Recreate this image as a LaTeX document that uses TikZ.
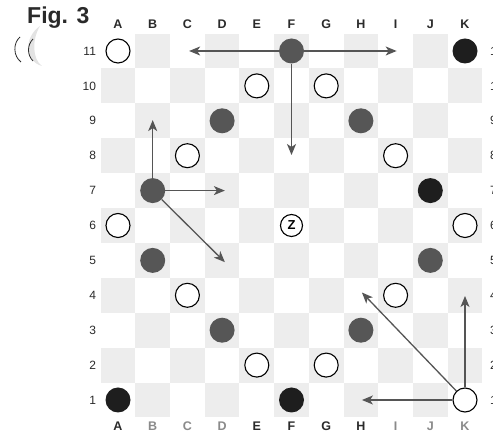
\documentclass[tikz,border=0pt]{standalone}
\usepackage{fontspec}
\setmainfont{Liberation Sans}
\usetikzlibrary{arrows.meta, positioning}
\definecolor{brdGray}{HTML}{EDEDED}
\definecolor{pcDark}{HTML}{565656}
\definecolor{pcBlack}{HTML}{1E1E1E}
\definecolor{arGray}{HTML}{555555}
\definecolor{lblGray}{HTML}{2A2A2A}
\definecolor{lblFaint}{HTML}{8A8A8A}

\begin{document}
\begin{tikzpicture}[x=1pt, y=1pt,
    wpiece/.style={circle, draw=black, line width=1.1pt, fill=white,
      minimum size=24pt, inner sep=0pt},
    dpiece/.style={circle, fill=pcDark, minimum size=25pt, inner sep=0pt},
    bpiece/.style={circle, fill=pcBlack, minimum size=25pt, inner sep=0pt},
    move/.style={draw=arGray, line width=1.3pt,
      -{Stealth[length=11pt, width=9pt, inset=3pt]}},
    collbl/.style={font=\bfseries\fontsize{12.5}{12.5}\selectfont, text=lblGray, inner sep=0pt},
    rowlbl/.style={font=\fontsize{12}{12}\selectfont, text=lblGray, inner sep=0pt}]
  \useasboundingbox (0,0) rectangle (493,433);
  \clip (0,0) rectangle (493,433);
  \node[font=\bfseries\fontsize{23}{23}\selectfont, text=lblGray,
    anchor=base west, inner sep=0pt] (title) at (27,409) {Fig. 3};
  % stray marks under the title
  \draw[lblGray, line width=0.8pt] (20,396) .. controls (13,390) and (13,377) .. (21,371);
  \fill[gray!22] (40,407) .. controls (24,396) and (24,372) .. (42,367)
    .. controls (32,374) and (32,394) .. (40,407);
  \draw[lblGray, line width=0.8pt] (33,394) .. controls (27,388) and (27,378) .. (33,372);

  \begin{scope}[shift={(83.3pt,-1.9pt)}, x=34.7pt, y=34.9pt]
    % board
    \fill[white] (0.5,0.5) rectangle (11.5,11.5);
    \foreach \c in {1,...,11}{
      \foreach \r in {1,...,11}{
        \pgfmathtruncatemacro\s{\c+\r}
        \ifodd\s \fill[brdGray] (\c-0.5,\r-0.5) rectangle ++(1,1);\fi
      }
    }
    % coordinates
    \foreach \l/\tc [count=\c] in {A/lblGray,B/lblFaint,C/lblFaint,D/lblFaint,
        E/lblGray,F/lblGray,G/lblGray,H/lblGray,I/lblFaint,J/lblFaint,K/lblFaint}{
      \node[collbl] (top-\l) at (\c,11.77) {\l};
      \node[collbl, text=\tc] (bot-\l) at (\c,0.24) {\l};
    }
    \foreach \r in {1,...,11}{
      \node[rowlbl, anchor=east] (left-\r) at (0.37,\r) {\r};
      \node[rowlbl, anchor=west] (right-\r) at (11.72,\r) {\r};
    }

    % pieces
    \node[wpiece] (a11) at (1,11) {};
    \node[dpiece] (f11) at (6,11) {};
    \node[bpiece] (k11) at (11,11) {};
    \node[wpiece] (e10) at (5,10) {};
    \node[wpiece] (g10) at (7,10) {};
    \node[dpiece] (d9) at (4,9) {};
    \node[dpiece] (h9) at (8,9) {};
    \node[wpiece] (c8) at (3,8) {};
    \node[wpiece] (i8) at (9,8) {};
    \node[dpiece] (b7) at (2,7) {};
    \node[bpiece] (j7) at (10,7) {};
    \node[wpiece] (a6) at (1,6) {};
    \node[wpiece, minimum size=22pt, font=\bfseries\fontsize{13}{13}\selectfont]
      (f6) at (6,6) {Z};
    \node[wpiece] (k6) at (11,6) {};
    \node[dpiece] (b5) at (2,5) {};
    \node[dpiece] (j5) at (10,5) {};
    \node[wpiece] (c4) at (3,4) {};
    \node[wpiece] (i4) at (9,4) {};
    \node[dpiece] (d3) at (4,3) {};
    \node[dpiece] (h3) at (8,3) {};
    \node[wpiece] (e2) at (5,2) {};
    \node[wpiece] (g2) at (7,2) {};
    \node[bpiece] (a1) at (1,1) {};
    \node[bpiece] (f1) at (6,1) {};
    \node[wpiece] (k1) at (11,1) {};

    % move targets
    \coordinate (c11) at (3.05,11);
    \coordinate (i11) at (9.03,11);
    \coordinate (f8) at (6,8.02);
    \coordinate (b9) at (2,9.02);
    \coordinate (d7) at (4.08,7);
    \coordinate (d5) at (4.08,4.95);
    \coordinate (h1) at (8.03,1);
    \coordinate (k4) at (11,3.98);
    \coordinate (h4) at (8.03,4.08);

    % moves
    \draw[move] (f11) -- (c11);
    \draw[move] (f11) -- (i11);
    \draw[move] (f11) -- (f8);
    \draw[move] (b7) -- (b9);
    \draw[move] (b7) -- (d7);
    \draw[move] (b7) -- (d5);
    \draw[move] (k1) -- (h1);
    \draw[move] (k1) -- (k4);
    \draw[move] (k1) -- (h4);
  \end{scope}
\end{tikzpicture}
\end{document}
